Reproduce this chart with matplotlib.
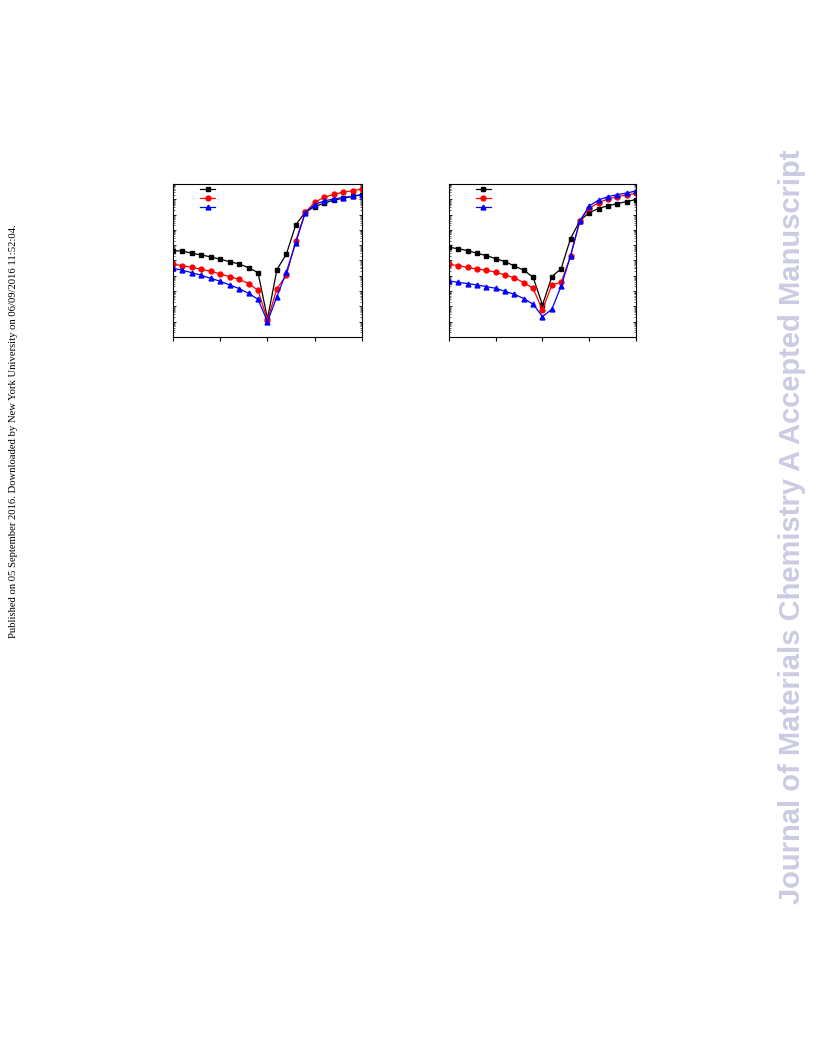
import matplotlib
matplotlib.use("Agg")
import matplotlib.pyplot as plt
import numpy as np
from matplotlib.ticker import LogLocator, NullFormatter, MultipleLocator

# bias voltage (V), same grid for both panels
voltage = np.round(np.arange(-1.0, 1.0001, 0.1), 2)

# log10 of current (left panel)
left_black = [-5.36, -5.38, -5.53, -5.64, -5.77, -5.92, -6.08, -6.23, -6.47, -6.80, -9.8,
              -6.60, -5.58, -3.66, -2.85, -2.48, -2.26, -2.05, -1.94, -1.81, -1.70]
left_red = [-6.25, -6.34, -6.45, -6.58, -6.71, -6.88, -7.06, -7.23, -7.51, -7.95, -9.9,
            -7.84, -6.97, -4.70, -2.85, -2.20, -1.87, -1.68, -1.54, -1.44, -1.33]
left_blue = [-6.51, -6.64, -6.80, -6.97, -7.17, -7.36, -7.60, -7.84, -8.15, -8.54, -10.0,
             -8.36, -6.75, -4.83, -2.87, -2.35, -2.11, -1.98, -1.89, -1.81, -1.70]

# right panel
right_black = [-5.14, -5.23, -5.36, -5.53, -5.68, -5.88, -6.08, -6.36, -6.64, -7.10, -8.91,
               -7.06, -6.53, -4.57, -3.40, -2.87, -2.61, -2.42, -2.29, -2.15, -2.02]
right_red = [-6.25, -6.34, -6.45, -6.56, -6.64, -6.77, -6.95, -7.14, -7.45, -7.82, -9.24,
             -7.60, -7.43, -5.71, -3.40, -2.59, -2.22, -1.98, -1.83, -1.72, -1.61]
right_blue = [-7.34, -7.43, -7.51, -7.60, -7.71, -7.82, -8.02, -8.21, -8.49, -8.86, -9.67,
              -9.19, -7.67, -5.71, -3.40, -2.44, -2.05, -1.83, -1.70, -1.59, -1.46]

colors = ["black", "red", "blue"]
markers = ["s", "o", "^"]

fig = plt.figure(figsize=(8.16, 10.56), dpi=100)


def draw_panel(rect, series):
    ax = fig.add_axes(rect)
    handles = []
    for vals, c, m in zip(series, colors, markers):
        (h,) = ax.plot(voltage, 10.0 ** np.array(vals), color=c, marker=m,
                       markersize=3.5, linewidth=0.9)
        handles.append(h)
    ax.set_yscale("log")
    ax.set_xlim(-1, 1)
    ax.set_ylim(1e-11, 1e-1)
    ax.xaxis.set_major_locator(MultipleLocator(0.5))
    ax.yaxis.set_major_locator(LogLocator(base=10, numticks=20))
    ax.yaxis.set_minor_locator(LogLocator(base=10, subs=np.arange(2, 10), numticks=20))
    ax.xaxis.set_major_formatter(NullFormatter())
    ax.yaxis.set_major_formatter(NullFormatter())
    ax.yaxis.set_minor_formatter(NullFormatter())
    ax.tick_params(axis="x", direction="out", length=3, width=0.8)
    ax.tick_params(axis="y", which="both", direction="in", left=True, right=True)
    ax.tick_params(axis="y", which="major", length=2.5, width=0.6)
    ax.tick_params(axis="y", which="minor", length=1.2, width=0.4)
    for s in ax.spines.values():
        s.set_linewidth(0.8)
    ax.legend(handles, [" ", " ", " "], loc="upper left", bbox_to_anchor=(0.11, 1.025),
              frameon=False, handlelength=2.2, fontsize=5, labelspacing=0.4)
    return ax


draw_panel([0.212, 0.6809, 0.2316, 0.1449], [left_black, left_red, left_blue])
draw_panel([0.5502, 0.6809, 0.2292, 0.1449], [right_black, right_red, right_blue])

fig.text(0.016, 0.592,
         "Published on 05 September 2016. Downloaded by New York University on 06/09/2016 11:52:04.",
         rotation=90, ha="center", va="center", fontsize=7.7, family="Liberation Serif")
fig.text(0.971, 0.501, "Journal of Materials Chemistry A Accepted Manuscript",
         rotation=90, ha="center", va="center", fontsize=21, fontweight="bold",
         color="#cbcbe3", family="Liberation Sans")

fig.savefig("out.png", dpi=100)
